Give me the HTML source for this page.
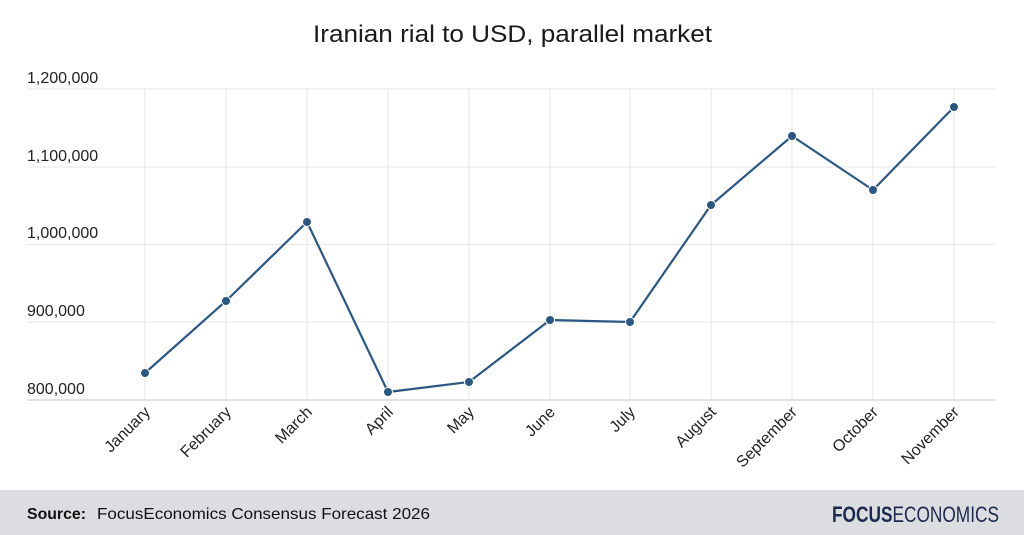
<!DOCTYPE html>
<html><head><meta charset="utf-8"><style>
body{margin:0;width:1024px;height:535px;background:#fff;overflow:hidden;font-family:"Liberation Sans",sans-serif}
</style></head><body>
<svg width="1024" height="535" xmlns="http://www.w3.org/2000/svg" style="position:absolute;left:0;top:0">
<text x="313" y="42" font-size="24" fill="#1a1a1a" textLength="399" lengthAdjust="spacingAndGlyphs">Iranian rial to USD, parallel market</text>
<g stroke="#e6e6e6" stroke-width="1">
<line x1="27" y1="89" x2="995" y2="89"/><line x1="27" y1="167" x2="995" y2="167"/><line x1="27" y1="244.5" x2="995" y2="244.5"/><line x1="27" y1="322" x2="995" y2="322"/>
<line x1="145" y1="89" x2="145" y2="400"/><line x1="226" y1="89" x2="226" y2="400"/><line x1="307" y1="89" x2="307" y2="400"/><line x1="388" y1="89" x2="388" y2="400"/><line x1="469" y1="89" x2="469" y2="400"/><line x1="550" y1="89" x2="550" y2="400"/><line x1="630" y1="89" x2="630" y2="400"/><line x1="711" y1="89" x2="711" y2="400"/><line x1="792" y1="89" x2="792" y2="400"/><line x1="873" y1="89" x2="873" y2="400"/><line x1="954" y1="89" x2="954" y2="400"/>
</g>
<line x1="27" y1="400" x2="995" y2="400" stroke="#d8d8d8" stroke-width="1.5"/>
<g font-size="16" fill="#222">
<text x="27" y="83">1,200,000</text><text x="27" y="161">1,100,000</text><text x="27" y="238">1,000,000</text><text x="27" y="316">900,000</text><text x="27" y="394">800,000</text>
</g>
<g font-size="16" fill="#222" text-anchor="end">
<text transform="translate(151,413) rotate(-45)">January</text>
<text transform="translate(232,413) rotate(-45)">February</text>
<text transform="translate(313,413) rotate(-45)">March</text>
<text transform="translate(394,413) rotate(-45)">April</text>
<text transform="translate(475,413) rotate(-45)">May</text>
<text transform="translate(556,413) rotate(-45)">June</text>
<text transform="translate(636,413) rotate(-45)">July</text>
<text transform="translate(717,413) rotate(-45)">August</text>
<text transform="translate(798,413) rotate(-45)">September</text>
<text transform="translate(879,413) rotate(-45)">October</text>
<text transform="translate(960,413) rotate(-45)">November</text>
</g>
<polyline fill="none" stroke="#2a5783" stroke-width="2.2" points="145,373 226,301 307,222 388,392 469,382 550,320 630,322 711,205 792,136 873,190 954,107"/>
<g fill="#2a5783" stroke="#fff" stroke-width="1">
<circle cx="145" cy="373" r="4.5"/><circle cx="226" cy="301" r="4.5"/><circle cx="307" cy="222" r="4.5"/><circle cx="388" cy="392" r="4.5"/><circle cx="469" cy="382" r="4.5"/><circle cx="550" cy="320" r="4.5"/><circle cx="630" cy="322" r="4.5"/><circle cx="711" cy="205" r="4.5"/><circle cx="792" cy="136" r="4.5"/><circle cx="873" cy="190" r="4.5"/><circle cx="954" cy="107" r="4.5"/>
</g>
<rect x="0" y="490" width="1024" height="45" fill="#dcdde1"/>
<text x="27" y="519" font-size="16" fill="#111" font-weight="bold" textLength="59" lengthAdjust="spacingAndGlyphs">Source:</text>
<text x="97" y="519" font-size="16" fill="#111" textLength="333" lengthAdjust="spacingAndGlyphs">FocusEconomics Consensus Forecast 2026</text>
<text x="999" y="522" text-anchor="end" font-size="22" fill="#1c2a4f" textLength="167" lengthAdjust="spacingAndGlyphs"><tspan font-weight="bold">FOCUS</tspan><tspan>ECONOMICS</tspan></text>
</svg>
</body></html>
